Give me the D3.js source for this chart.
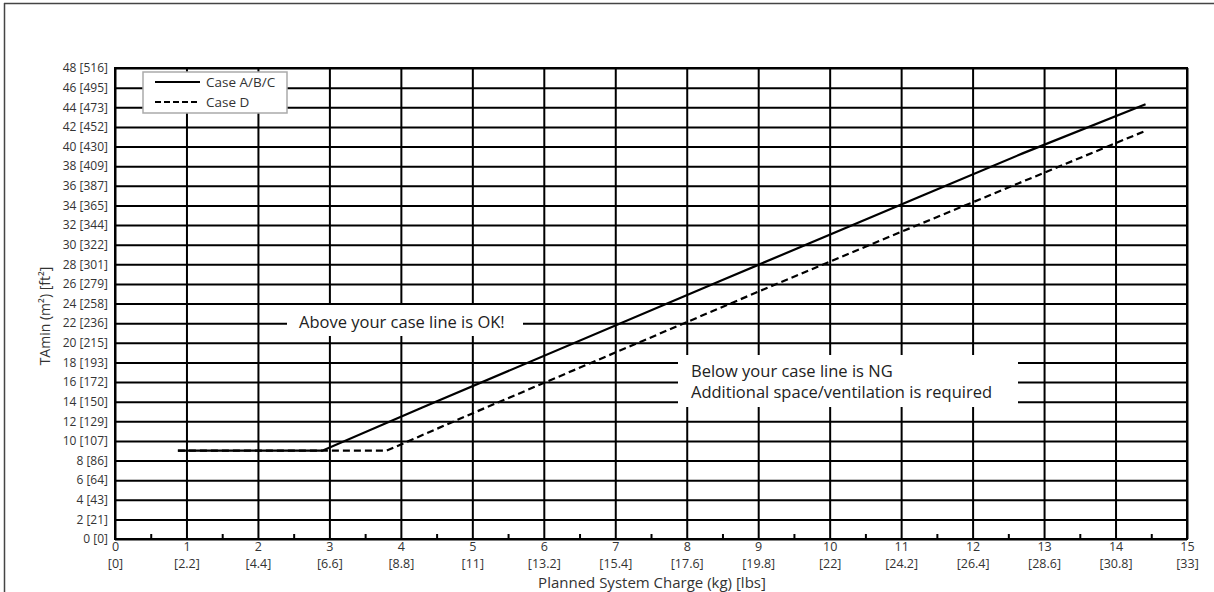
<!DOCTYPE html>
<html>
<head>
<meta charset="utf-8">
<script src="https://cdn.jsdelivr.net/npm/d3@7.9.0/dist/d3.min.js"></script>
<style>
  body { margin: 0; background: #fff; }
  svg text { font-family: "Open Sans", "Noto Sans", sans-serif; }
</style>
</head>
<body>
<svg id="chart" width="1214" height="592"></svg>
<script>
// data
const kgTicks = d3.range(0, 16);
const lbsLabels = ['0', '2.2', '4.4', '6.6', '8.8', '11', '13.2', '15.4', '17.6', '19.8', '22', '24.2', '26.4', '28.6', '30.8', '33'];
const m2Ticks = d3.range(0, 50, 2);
const ft2Labels = [0, 21, 43, 64, 86, 107, 129, 150, 172, 193, 215, 236, 258, 279, 301, 322, 344, 365, 387, 409, 430, 452, 473, 495, 516];

const chargeABC = [0.88, 2.9, 4.3, 8.5, 11.3, 12.7, 14.42];
const areaABC = [9.0, 9.0, 13.4, 26.4, 35.0, 39.3, 44.3];
const chargeD = [0.88, 3.8, 5.0, 7.0, 9.0, 11.0, 14.42];
const areaD = [9.0, 9.0, 12.8, 19.0, 25.2, 31.3, 41.6];

const svg = d3.select('#chart');
const margin = { left: 115, right: 27, top: 68, bottom: 53 };
const width = 1214 - margin.left - margin.right;
const height = 592 - margin.top - margin.bottom;

// outer frame (top and left edge only)
svg.append('line').attr('x1', 4).attr('x2', 1214).attr('y1', 3.5).attr('y2', 3.5)
  .attr('stroke', '#444').attr('stroke-width', 1.5);
svg.append('line').attr('x1', 4.5).attr('x2', 4.5).attr('y1', 3).attr('y2', 592)
  .attr('stroke', '#444').attr('stroke-width', 1.5);

const g = svg.append('g').attr('transform', `translate(${margin.left},${margin.top})`);

let x = d3.scaleLinear().domain([0, 15]).range([0, width]);
let y = d3.scaleLinear().domain([0, 48]).range([height, 0]);

// grid
g.append('g')
  .call(d3.axisLeft(y).tickValues(m2Ticks).tickSize(-width).tickFormat(''))
  .call((a) => a.select('.domain').remove())
  .selectAll('line').attr('stroke', '#000').attr('stroke-width', 2);
g.append('g')
  .call(d3.axisBottom(x).tickValues(kgTicks).tickSize(height).tickFormat(''))
  .call((a) => a.select('.domain').remove())
  .selectAll('line').attr('stroke', '#000').attr('stroke-width', 2);

// minor ticks on the bottom edge
g.append('g')
  .attr('transform', `translate(0,${height})`)
  .call(d3.axisBottom(x).tickValues(d3.range(0.5, 15, 1)).tickSize(-5).tickFormat(''))
  .call((a) => a.select('.domain').remove())
  .selectAll('line').attr('stroke', '#000').attr('stroke-width', 2);

g.append('rect').attr('width', width).attr('height', height)
  .attr('fill', 'none').attr('stroke', '#000').attr('stroke-width', 2);

// y labels
const yAxis = g.append('g')
  .call(d3.axisLeft(y).tickValues(m2Ticks).tickSize(0).tickPadding(7)
    .tickFormat((d, i) => `${d} [${ft2Labels[i]}]`));
yAxis.select('.domain').remove();
yAxis.selectAll('text').attr('font-size', 12).attr('fill', '#333')
  .attr('font-family', '"Open Sans", sans-serif');

// x labels, two rows
const xAxis = g.append('g')
  .attr('transform', `translate(0,${height})`)
  .call(d3.axisBottom(x).tickValues(kgTicks).tickSize(0).tickPadding(3)
    .tickFormat((d) => d));
xAxis.select('.domain').remove();
xAxis.selectAll('text').attr('font-size', 12.5).attr('fill', '#333')
  .attr('font-family', '"Open Sans", sans-serif');
xAxis.selectAll('.tick').append('text')
  .attr('y', 20).attr('dy', '0.71em').attr('text-anchor', 'middle')
  .attr('font-size', 12.5).attr('fill', '#333')
  .text((d, i) => `[${lbsLabels[i]}]`);

// axis titles
svg.append('text').attr('x', 652).attr('y', 588)
  .attr('text-anchor', 'middle').attr('font-size', 15).attr('fill', '#333')
  .text('Planned System Charge (kg) [lbs]');
svg.append('text')
  .attr('transform', 'translate(50,316) rotate(-90)')
  .attr('text-anchor', 'middle').attr('font-size', 14).attr('fill', '#333')
  .text('TAmin (m²) [ft²]');

// annotation boxes
const boxOK = g.append('g');
boxOK.append('rect').attr('x', 287 - margin.left).attr('y', 305 - margin.top)
  .attr('width', 236).attr('height', 31).attr('fill', '#fff');
boxOK.append('text').attr('x', 299 - margin.left).attr('y', 328 - margin.top)
  .attr('font-size', 16.5).attr('fill', '#222').text('Above your case line is OK!');

const boxNG = g.append('g');
boxNG.append('rect').attr('x', 678 - margin.left).attr('y', 355 - margin.top)
  .attr('width', 340).attr('height', 52).attr('fill', '#fff');
boxNG.append('text').attr('x', 691 - margin.left).attr('y', 377 - margin.top)
  .attr('font-size', 16.5).attr('fill', '#222').text('Below your case line is NG');
boxNG.append('text').attr('x', 691 - margin.left).attr('y', 398 - margin.top)
  .attr('font-size', 16.5).attr('fill', '#222').text('Additional space/ventilation is required');

// series
const line = d3.line().x((d) => x(d[0])).y((d) => y(d[1]));
g.append('path').datum(d3.zip(chargeABC, areaABC)).attr('d', line)
  .attr('fill', 'none').attr('stroke', '#000').attr('stroke-width', 2.2);
g.append('path').datum(d3.zip(chargeD, areaD)).attr('d', line)
  .attr('fill', 'none').attr('stroke', '#000').attr('stroke-width', 2.2)
  .attr('stroke-dasharray', '7,4');

// legend
const legend = svg.append('g').attr('transform', 'translate(143,72)');
legend.append('rect').attr('width', 144).attr('height', 41)
  .attr('fill', '#fff').attr('stroke', '#aaa').attr('stroke-width', 1.5);
[['Case A/B/C', null], ['Case D', '6,3']].forEach(([label, dash], i) => {
  const row = legend.append('g').attr('transform', `translate(0,${10 + i * 20})`);
  row.append('line').attr('x1', 12).attr('x2', 57).attr('y1', 0).attr('y2', 0)
    .attr('stroke', '#000').attr('stroke-width', 2)
    .attr('stroke-dasharray', dash);
  row.append('text').attr('x', 63).attr('y', 0).attr('dy', '0.35em')
    .attr('font-size', 13.5).attr('fill', '#333').text(label);
});
</script>
</body>
</html>
